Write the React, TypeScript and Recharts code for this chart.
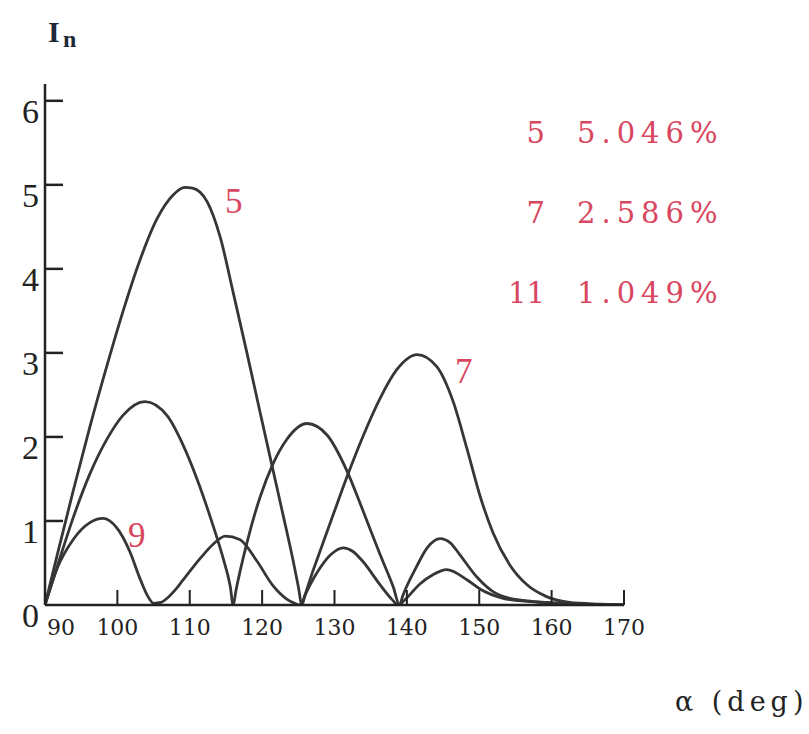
import { LineChart, Line, XAxis, YAxis } from "recharts";

// firing angle alpha (deg) and harmonic current In
const alphaTicks = [90, 100, 110, 120, 130, 140, 150, 160, 170];
const currentTicks = [0, 1, 2, 3, 4, 5, 6];

const h5Alpha = [90, 91.7, 93.9, 96.2, 98.6, 100.8, 103.1, 105.5, 107.7, 109.3, 110.4, 112.4, 114.2, 116.0, 117.9, 119.7, 121.1, 122.9, 124.3, 125.0, 125.5, 125.9, 127.0, 128.0, 129.8, 131.7, 133.9, 136.3, 138.6, 141.4, 144.1, 146.4, 148.3, 150.1, 151.9, 154.2, 156.6, 159.3, 162.5, 166.7, 170];
const h5Value = [0, 0.60, 1.36, 2.12, 2.86, 3.50, 4.10, 4.60, 4.88, 4.97, 4.96, 4.80, 4.38, 3.72, 3.00, 2.30, 1.76, 1.07, 0.52, 0.22, 0, 0.11, 0.40, 0.64, 1.07, 1.52, 2.00, 2.46, 2.80, 2.98, 2.84, 2.42, 1.86, 1.30, 0.86, 0.48, 0.24, 0.10, 0.03, 0.01, 0];

const h7Alpha = [90, 91.7, 93.9, 96.2, 98.6, 100.8, 103.8, 106.9, 109.1, 111.0, 113.2, 114.6, 115.6, 116.0, 116.4, 117.9, 119.7, 121.5, 123.4, 126.2, 129.0, 131.7, 133.9, 136.3, 138.1, 139.0, 139.4, 141.3, 142.8, 144.6, 146.0, 147.3, 149.7, 151.9, 154.2, 156.6, 159.3, 163.9, 170];
const h7Value = [0, 0.46, 1.04, 1.56, 1.98, 2.26, 2.42, 2.25, 1.90, 1.50, 0.95, 0.56, 0.22, 0, 0.18, 0.74, 1.28, 1.68, 1.97, 2.16, 2.02, 1.60, 1.13, 0.60, 0.22, 0, 0.1, 0.45, 0.68, 0.79, 0.74, 0.6, 0.33, 0.16, 0.08, 0.05, 0.03, 0.01, 0];

const h9Alpha = [90, 91.7, 93.9, 96.2, 98.0, 99.9, 101.7, 103.1, 104.1, 105.0, 106.0, 107.0, 108.0, 109.0, 110.0, 111.5, 113.2, 114.9, 116.9, 119.3, 121.5, 123.4, 124.5, 125.3, 126.0, 127.0, 128.0, 129.5, 131.2, 132.5, 133.9, 136.3, 137.9, 138.8, 139.7, 141.8, 143.6, 145.5, 148.3, 150.1, 153.3, 157.0, 161.1, 170];
const h9Value = [0, 0.44, 0.78, 0.98, 1.03, 0.92, 0.64, 0.32, 0.12, 0.02, 0.03, 0.09, 0.18, 0.29, 0.40, 0.56, 0.72, 0.82, 0.78, 0.52, 0.23, 0.07, 0.02, 0, 0.13, 0.30, 0.44, 0.60, 0.68, 0.64, 0.52, 0.24, 0.07, 0, 0.06, 0.25, 0.36, 0.42, 0.30, 0.19, 0.08, 0.04, 0.02, 0];

const legendOrders = ["5", "7", "11"];
const legendShares = ["5.046%", "2.586%", "1.049%"];

const INK = "#222";
const CURVE = "#363636";
const RED = "#d8475f";
const SERIF = "'Liberation Serif', 'Times New Roman', serif";
const WIDE = "'DejaVu Serif', serif";

const toPoints = (alpha: number[], value: number[]) =>
  alpha.map((a, i) => ({ alpha: a, value: value[i] }));

const series = [toPoints(h5Alpha, h5Value), toPoints(h7Alpha, h7Value), toPoints(h9Alpha, h9Value)];

function XTick(props: any) {
  const { x, y, payload } = props;
  const v = payload.value;
  return (
    <g>
      {v !== 90 && <line x1={x} x2={x} y1={y} y2={y - 15} stroke={INK} strokeWidth={2} />}
      <text x={v === 90 ? x + 16 : x} y={y + 30} textAnchor="middle" fontFamily={WIDE} fontSize={22} fill={INK}>
        {v}
      </text>
    </g>
  );
}

function YTick(props: any) {
  const { x, y, payload } = props;
  const v = payload.value;
  return (
    <g>
      {v !== 0 && <line x1={x} x2={x + 18} y1={y} y2={y} stroke={INK} strokeWidth={2.5} />}
      <text x={x - 6} y={y + 22} textAnchor="end" fontFamily={SERIF} fontSize={34} fill={INK}>
        {v}
      </text>
    </g>
  );
}

export default function App() {
  return (
    <div style={{ position: "absolute", left: 0, top: 0, width: 809, height: 734, background: "#fff" }}>
      <LineChart width={809} height={734} margin={{ top: 84, right: 185, bottom: 99, left: 0 }}>
        <XAxis
          type="number"
          dataKey="alpha"
          domain={[90, 170]}
          ticks={alphaTicks}
          interval={0}
          allowDataOverflow
          height={30}
          tickSize={0}
          tickMargin={0}
          tickLine={false}
          axisLine={{ stroke: INK, strokeWidth: 2.5 }}
          tick={XTick}
        />
        <YAxis
          type="number"
          domain={[0, 6.2]}
          ticks={currentTicks}
          interval={0}
          allowDataOverflow
          width={45}
          tickSize={0}
          tickMargin={0}
          tickLine={false}
          axisLine={{ stroke: INK, strokeWidth: 2.5 }}
          tick={YTick}
        />
        {series.map((pts, i) => (
          <Line
            key={i}
            data={pts}
            dataKey="value"
            type="monotone"
            stroke={CURVE}
            strokeWidth={2.8}
            dot={false}
            isAnimationActive={false}
          />
        ))}
      </LineChart>

      <svg width={809} height={734} style={{ position: "absolute", left: 0, top: 0, pointerEvents: "none" }}>
        <text x={48} y={42} fontFamily={SERIF} fontWeight="bold" fontSize={30} fill="#1d2a36">
          I
        </text>
        <text x={63} y={47} fontFamily={SERIF} fontWeight="bold" fontSize={24} fill="#1d2a36">
          n
        </text>

        {legendOrders.map((n, i) => (
          <g key={n} fontFamily={WIDE} fontSize={29} fill={RED}>
            <text x={545} y={143 + i * 80} textAnchor="end">
              {n}
            </text>
            <text x={577} y={143 + i * 80} letterSpacing={6}>
              {legendShares[i]}
            </text>
          </g>
        ))}

        <g fontFamily={SERIF} fontSize={35} fill={RED}>
          <text x={225} y={213}>5</text>
          <text x={455} y={383}>7</text>
          <text x={128} y={547}>9</text>
        </g>

        <text x={675} y={711} fontFamily={WIDE} fontSize={27} letterSpacing={5} fill={INK}>
          α (deg)
        </text>
      </svg>
    </div>
  );
}
